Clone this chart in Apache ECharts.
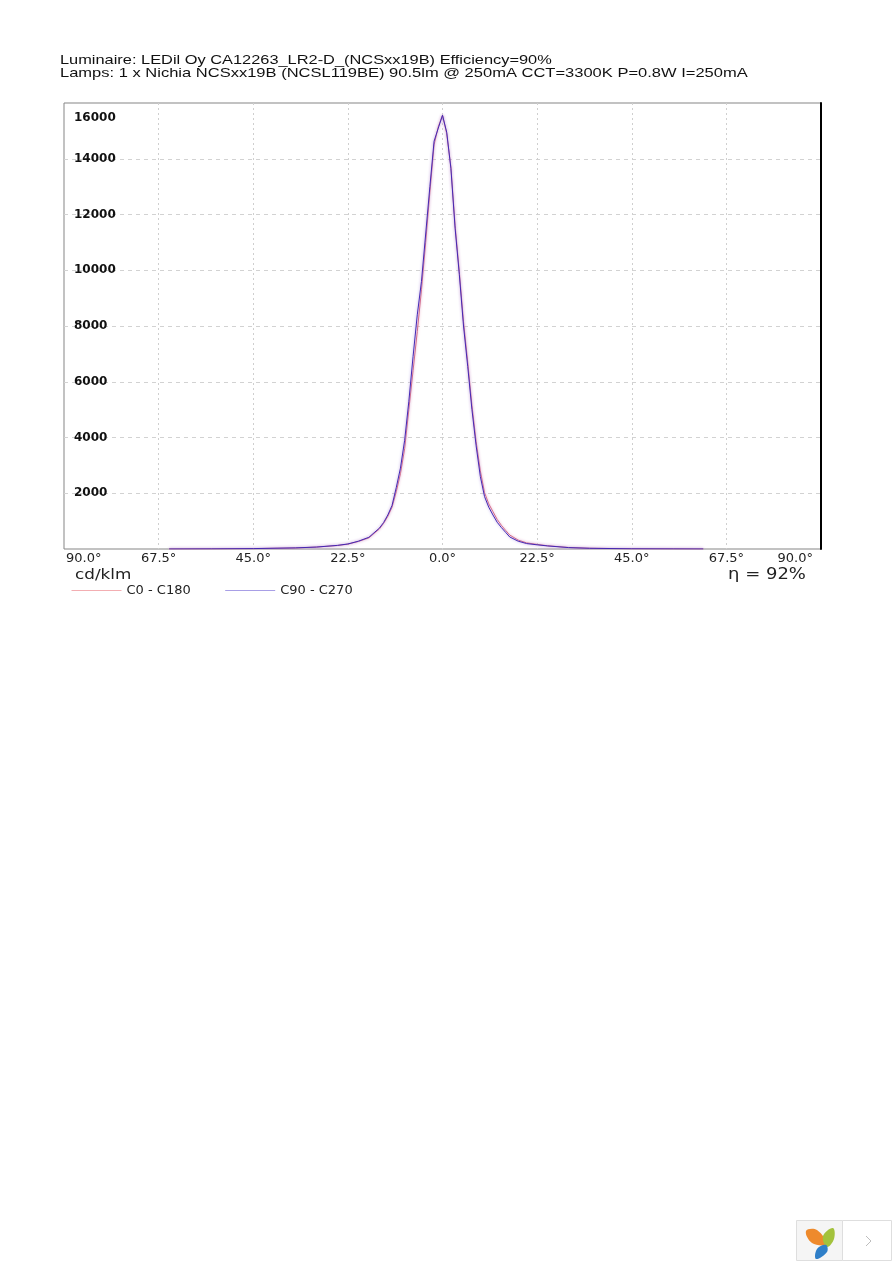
<!DOCTYPE html>
<html lang="en">
<head>
    <meta charset="UTF-8">
    <title>Luminaire intensity curve</title>
    <script src="https://cdn.jsdelivr.net/npm/echarts@6/dist/echarts.min.js"></script>
    <style>
        html, body { margin: 0; padding: 0; background: #fff; }
        #chart { width: 892px; height: 1262px; }
    </style>
</head>
<body>
<div id="chart"></div>

<script>
    var titleLine1 = 'Luminaire: LEDil Oy CA12263_LR2-D_(NCSxx19B) Efficiency=90%';
    var titleLine2 = 'Lamps: 1 x Nichia NCSxx19B (NCSL119BE) 90.5lm @ 250mA CCT=3300K P=0.8W I=250mA';
    var unitLabel = 'cd/klm';
    var etaLabel = 'η = 92%';
    var seriesNames = ['C0 - C180', 'C90 - C270'];

    var angles = [-65, -55, -45, -35, -30, -25, -22.5, -20, -17.5, -15, -14, -13, -12, -11, -10, -9, -8, -7, -6, -5, -4, -3, -2, -1, 0,
        1, 2, 3, 4, 5, 6, 7, 8, 9, 10, 11, 12, 13, 14, 15, 16, 18, 20, 22.5, 25, 30, 35, 45, 55, 62];
    var c0Values = [0, 4, 14, 38, 68, 125, 175, 270, 400, 720, 920, 1170, 1500, 2050, 2700, 3600, 5000, 6400, 7800, 9300, 11000, 12800, 14500, 15150, 15560,
        14900, 13700, 11600, 9950, 8150, 6700, 5150, 3850, 2800, 2020, 1620, 1340, 1060, 850, 670, 500, 320, 220, 165, 115, 55, 27, 8, 3, 0];
    var c90Values = [0, 5, 15, 40, 70, 130, 180, 280, 420, 750, 950, 1220, 1560, 2200, 2900, 3900, 5300, 6900, 8400, 9600, 11300, 13000, 14630, 15100, 15560,
        14950, 13650, 11500, 9850, 8000, 6550, 5000, 3700, 2600, 1880, 1500, 1220, 960, 770, 600, 430, 280, 195, 150, 110, 50, 25, 8, 3, 0];

    function pairs(xs, ys) {
        return xs.map(function (x, i) { return [x, ys[i]]; });
    }

    // the source text is a horizontally stretched raster, so stretch it too
    function stretchedText(text, x, y, font, size, scaleX, color) {
        return {
            type: 'text',
            x: x,
            y: y,
            scaleX: scaleX,
            style: {text: text, fontFamily: font, fontSize: size, fill: color, verticalAlign: 'middle'}
        };
    }

    var myChart = echarts.init(document.getElementById('chart'), null, {renderer: 'canvas'});

    var option = {
        animation: false,
        backgroundColor: '#fff',
        legend: {
            left: 71,
            top: 584,
            padding: 0,
            itemWidth: 50,
            itemHeight: 12,
            itemGap: 34,
            textStyle: {fontFamily: 'DejaVu Sans', fontSize: 13, color: '#222'},
            data: [
                {name: seriesNames[0], itemStyle: {opacity: 0}, lineStyle: {color: '#f3aeb2', width: 1, shadowBlur: 0}},
                {name: seriesNames[1], itemStyle: {opacity: 0}, lineStyle: {color: '#a89fe6', width: 1, shadowBlur: 0}}
            ]
        },
        grid: {
            show: true,
            left: 64,
            right: 71,
            top: 103,
            bottom: 713,
            borderColor: '#858585',
            borderWidth: 1,
            containLabel: false
        },
        xAxis: {
            type: 'value',
            min: -90,
            max: 90,
            interval: 22.5,
            axisLine: {show: false},
            axisTick: {show: false},
            axisLabel: {
                margin: 3,
                alignMinLabel: 'left',
                alignMaxLabel: 'right',
                color: '#222',
                fontFamily: 'DejaVu Sans',
                fontSize: 13,
                formatter: function (v) {
                    var s = Math.abs(v).toFixed(1) + '°';
                    if (v === -90) return '{lo|' + s + '}';
                    if (v === 90) return '{hi|' + s + '}';
                    return s;
                },
                rich: {
                    lo: {padding: [0, 0, 0, 2], color: '#222', fontFamily: 'DejaVu Sans', fontSize: 13},
                    hi: {padding: [0, 8, 0, 0], color: '#222', fontFamily: 'DejaVu Sans', fontSize: 13}
                }
            },
            splitLine: {
                show: true,
                showMinLine: false,
                showMaxLine: false,
                lineStyle: {color: '#cfcfcf', type: [2, 3], width: 1}
            }
        },
        yAxis: [
            {
                type: 'value',
                min: 0,
                max: 16000,
                interval: 2000,
                axisLine: {show: false},
                axisTick: {show: false},
                axisLabel: {
                    inside: true,
                    margin: 10,
                    showMinLabel: false,
                    color: '#111',
                    fontFamily: 'DejaVu Sans',
                    fontSize: 12,
                    fontWeight: 'bold',
                    formatter: function (v) {
                        if (v === 0) return '';
                        return v === 16000 ? '{top|' + v + '}' : String(v);
                    },
                    rich: {
                        top: {padding: [30, 0, 0, 0], color: '#111', fontFamily: 'DejaVu Sans', fontSize: 12, fontWeight: 'bold'}
                    }
                },
                splitLine: {
                    show: true,
                    showMinLine: false,
                    showMaxLine: false,
                    lineStyle: {color: '#d2d2d2', type: [4, 4], width: 1}
                }
            },
            {
                type: 'value',
                position: 'right',
                min: 0,
                max: 16000,
                interval: 16000,
                axisLine: {show: true, lineStyle: {color: '#000', width: 2}},
                axisTick: {show: false},
                axisLabel: {show: false},
                splitLine: {show: false}
            }
        ],
        series: [
            {
                name: seriesNames[0],
                type: 'line',
                symbol: 'none',
                data: pairs(angles, c0Values),
                lineStyle: {color: '#d9607a', width: 1, shadowColor: '#f5b4c4', shadowBlur: 3},
                z: 2
            },
            {
                name: seriesNames[1],
                type: 'line',
                symbol: 'none',
                data: pairs(angles, c90Values),
                lineStyle: {color: '#4428b4', width: 1, shadowColor: '#a99fe8', shadowBlur: 3},
                z: 3
            }
        ],
        graphic: [
            stretchedText(titleLine1, 60, 60, 'Liberation Sans', 13, 1.26, '#111'),
            stretchedText(titleLine2, 60, 73, 'Liberation Sans', 13, 1.27, '#111'),
            stretchedText(unitLabel, 75, 575, 'DejaVu Sans', 14, 1.2, '#222'),
            stretchedText(etaLabel, 728, 575, 'DejaVu Sans', 15, 1.2, '#222'),
            // floating page widget in the bottom corner
            {type: 'rect', shape: {x: 796.5, y: 1220.5, width: 46, height: 40}, style: {fill: '#f5f5f5', stroke: '#dedede'}},
            {type: 'rect', shape: {x: 842.5, y: 1220.5, width: 49, height: 40}, style: {fill: '#fff', stroke: '#dedede'}},
            {type: 'polygon', shape: {points: [[806, 1231], [817, 1230], [826, 1244], [812, 1243]], smooth: 0.4}, style: {fill: '#ee8a2c'}},
            {type: 'polygon', shape: {points: [[833, 1228], [834, 1239], [827, 1247], [823, 1236]], smooth: 0.4}, style: {fill: '#a3c23c'}},
            {type: 'polygon', shape: {points: [[826, 1245], [827, 1252], [816, 1259], [817, 1249]], smooth: 0.4}, style: {fill: '#2f7fc8'}},
            {type: 'polyline', shape: {points: [[866, 1236], [871, 1241], [866, 1246]]}, style: {stroke: '#bdbdbd', fill: 'none', lineWidth: 1}}
        ]
    };

    myChart.setOption(option);
</script>

</body>
</html>
